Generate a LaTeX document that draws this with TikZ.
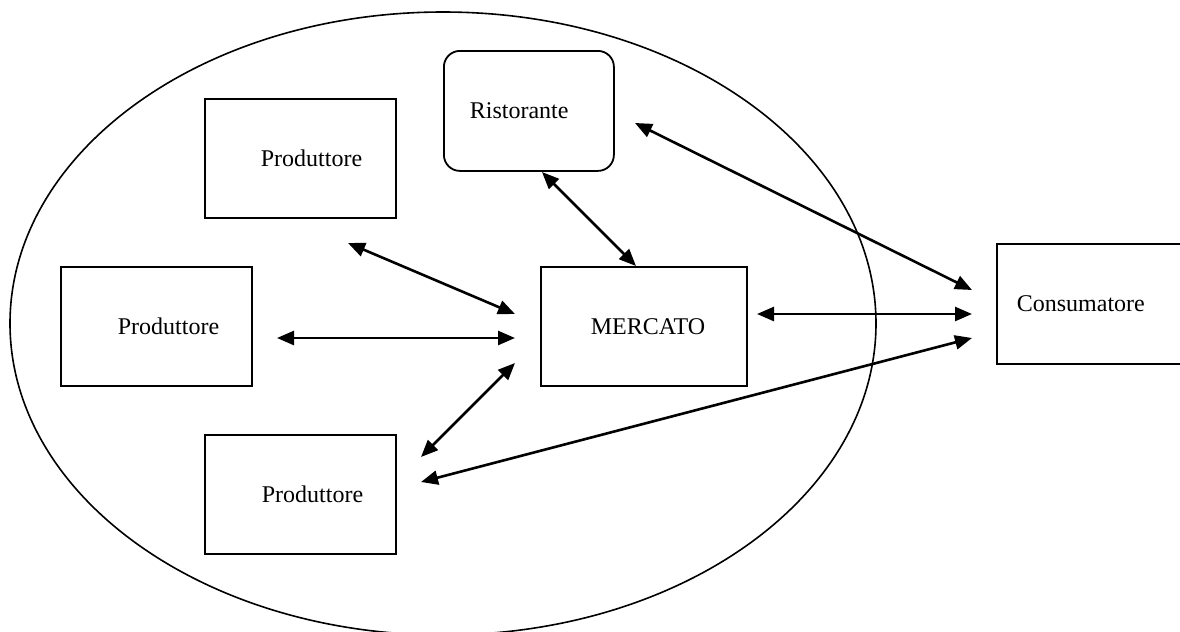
\documentclass[tikz,border=0pt]{standalone}
\usepackage{fontspec}
\setmainfont{Liberation Serif}
\usetikzlibrary{arrows.meta,positioning}

\begin{document}
\begin{tikzpicture}[x=0.5pt,y=-0.5pt,
  box/.style 2 args={draw,fill=white,line width=0.9pt,inner xsep=0pt,align=left,
    anchor=north west,text width=#1,minimum height=#2,font=\fontsize{12}{14}\selectfont},
  link/.style={{Triangle[length=8.5pt,width=7pt]}-{Triangle[length=8.5pt,width=7pt]},line width=1.3pt}]
\useasboundingbox (0,0) rectangle (1180,632);
\clip (0,0) rectangle (1180,632);
% area of the market
\draw[line width=0.8pt] (443,323.5) ellipse [x radius=433, y radius=311.5];
% boxes
\node[box={95.5pt}{59.5pt}] (prodA) at (204,98) {\hspace*{28pt}Produttore};
\node[box={95.5pt}{59.5pt}] (prodB) at (60,266) {\hspace*{28.5pt}Produttore};
\node[box={95.5pt}{59.5pt}] (prodC) at (204,434) {\hspace*{28.5pt}Produttore};
\node[box={85pt}{60pt},rounded corners=8pt] (rist) at (443,50) {\hspace*{13pt}Ristorante};
\node[box={103pt}{59.5pt}] (merc) at (540,266) {\hspace*{25pt}MERCATO};
\node[box={96pt}{60pt}] (cons) at (996,243) {\hspace*{10pt}Consumatore};
% arrow ends
\coordinate (a1) at (348,243); \coordinate (m1) at (515,314);
\coordinate (b1) at (277,338); \coordinate (m2) at (515,338);
\coordinate (c1) at (421,457); \coordinate (m3) at (515,363);
\coordinate (c2) at (421,482); \coordinate (k3) at (972,338);
\coordinate (m4) at (757,314); \coordinate (k2) at (972,314);
\coordinate (r1) at (635,123); \coordinate (k1) at (972,290);
\coordinate (r2) at (542,172); \coordinate (m5) at (636,266);
% links
\draw[link] (a1) -- (m1);
\draw[link] (b1) -- (m2);
\draw[link] (c1) -- (m3);
\draw[link] (c2) -- (k3);
\draw[link] (m4) -- (k2);
\draw[link] (r1) -- (k1);
\draw[link] (r2) -- (m5);
\end{tikzpicture}
\end{document}
